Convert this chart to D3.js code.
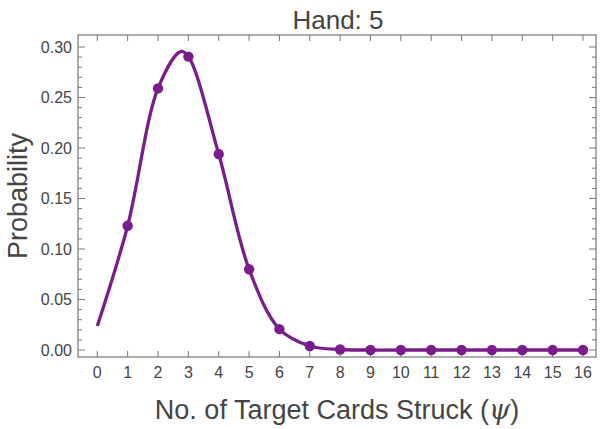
<!DOCTYPE html><html><head><meta charset="utf-8"><script src="https://cdn.jsdelivr.net/npm/d3@7"></script>
<style>body{margin:0;background:#fff}</style></head><body><svg id="c" width="600" height="429"></svg>
<script>
const pointX=[1,2,3,4,5,6,7,8,9,10,11,12,13,14,15,16];
const pointY=[0.123,0.259,0.2905,0.194,0.080,0.0207,0.004,0.0005,0,0,0,0,0,0,0,0];
const curveX=[0,1,2,2.75,3,4,5,6,7,8,9,10,12,14,16];
const curveY=[0.0237,0.123,0.259,0.2955,0.2905,0.194,0.080,0.0207,0.004,0.0005,0,0,0,0,0];
const xTicks=d3.range(0,17);
const yTicks=[0,0.05,0.10,0.15,0.20,0.25,0.30];
const svg=d3.select("#c");
const L=78,R=596,T=35,B=357;
const x=d3.scaleLinear().domain([0,16]).range([97.3,583]);
const y=d3.scaleLinear().domain([0,0.30]).range([350,47]);
const col="#7a1c8c",fg="#444",ax="#777",ff="Liberation Sans, Arial";
svg.append("rect").attr("x",L).attr("y",T).attr("width",R-L).attr("height",B-T).attr("fill","none").attr("stroke",ax).attr("stroke-width",1.2);
const g=svg.append("g").attr("stroke",ax).attr("stroke-width",1);
xTicks.forEach(t=>{g.append("line").attr("x1",x(t)).attr("x2",x(t)).attr("y1",B).attr("y2",B-6);g.append("line").attr("x1",x(t)).attr("x2",x(t)).attr("y1",T).attr("y2",T+6);});
d3.range(0,31).forEach(i=>{const v=i/100,maj=i%5===0,len=maj?7:4;
 g.append("line").attr("x1",L).attr("x2",L+len).attr("y1",y(v)).attr("y2",y(v));
 g.append("line").attr("x1",R).attr("x2",R-len).attr("y1",y(v)).attr("y2",y(v));});
svg.append("g").selectAll("text").data(xTicks).join("text").attr("x",d=>x(d)).attr("y",378).attr("text-anchor","middle").attr("font-family",ff).attr("font-size",16).attr("fill",fg).text(d=>d);
svg.append("g").selectAll("text").data(yTicks).join("text").attr("x",72).attr("y",d=>y(d)+5.5).attr("text-anchor","end").attr("font-family",ff).attr("font-size",16).attr("fill",fg).text(d=>d.toFixed(2));
const line=d3.line().x((d,i)=>x(curveX[i])).y((d,i)=>y(curveY[i])).curve(d3.curveCatmullRom.alpha(0.5));
svg.append("path").attr("d",line(curveX)).attr("fill","none").attr("stroke",col).attr("stroke-width",3.3);
svg.append("g").selectAll("circle").data(pointX).join("circle").attr("cx",d=>x(d)).attr("cy",(d,i)=>y(pointY[i])).attr("r",5.2).attr("fill",col);
svg.append("text").attr("x",338).attr("y",29).attr("text-anchor","middle").attr("font-family",ff).attr("font-size",26).attr("fill",fg).text("Hand: 5");
svg.append("text").attr("transform","translate(27,196) rotate(-90)").attr("text-anchor","middle").attr("font-family",ff).attr("font-size",27).attr("fill",fg).text("Probability");
const xl=svg.append("text").attr("x",337).attr("y",419).attr("text-anchor","middle").attr("font-family",ff).attr("font-size",27).attr("fill",fg);
xl.append("tspan").text("No. of Target Cards Struck (");xl.append("tspan").attr("font-style","italic").attr("font-family","DejaVu Serif").text("ψ");xl.append("tspan").text(")");
</script></body></html>
